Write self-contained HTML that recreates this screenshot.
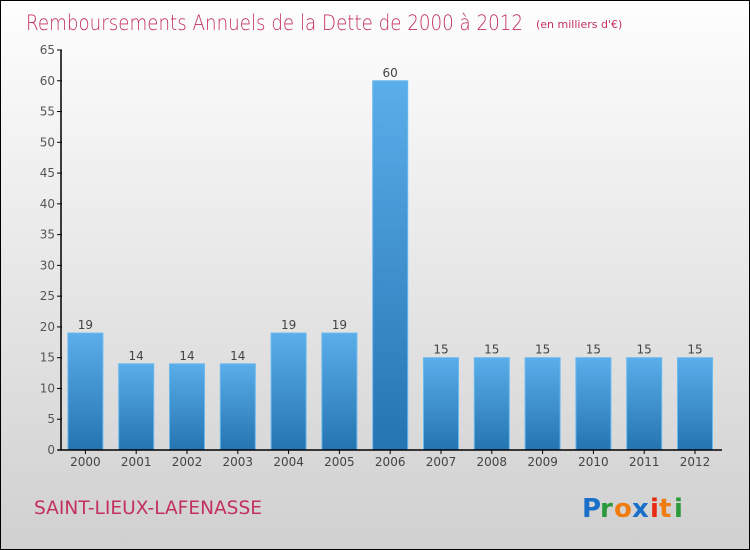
<!DOCTYPE html>
<html><head><meta charset="utf-8"><style>
body{margin:0}
#c{width:750px;height:550px;position:relative;box-sizing:border-box;border:1px solid #000;background:linear-gradient(#fefefe,#d0d0d0);font-family:"DejaVu Sans","Liberation Sans",sans-serif;overflow:hidden}
</style></head><body>
<div id="c">
<svg id="s" width="750" height="550" style="position:absolute;left:-1px;top:-1px">
<defs><linearGradient id="g" x1="0" y1="0" x2="0" y2="1"><stop offset="0" stop-color="#5aaeea"/><stop offset="1" stop-color="#2574b2"/></linearGradient></defs>
<text x="26" y="30" font-size="21" fill="#c3305e" font-family="'DejaVu Sans',sans-serif" font-weight="200" textLength="497" lengthAdjust="spacingAndGlyphs">Remboursements Annuels de la Dette de 2000 à 2012</text>
<text x="536" y="28" font-size="11" fill="#c3305e">(en milliers d'€)</text>
<text x="34" y="514" font-size="19" fill="#c3305e" textLength="228" lengthAdjust="spacingAndGlyphs">SAINT-LIEUX-LAFENASSE</text>
<g font-size="26" font-family="'DejaVu Sans',sans-serif" font-weight="bold">
<text x="582" y="517" fill="#1a70c8">P</text><text x="600" y="517" fill="#2a9a3a">r</text><text x="614" y="517" fill="#f07c10">o</text><text x="632" y="517" fill="#1a70c8">x</text><text x="650" y="517" fill="#e82a10">i</text><text x="659" y="517" fill="#f07c10">t</text><text x="674" y="517" fill="#2a9a3a">i</text>
</g>
<g id="plot"></g>
</svg>
</div>
<script>
const categories=["2000","2001","2002","2003","2004","2005","2006","2007","2008","2009","2010","2011","2012"];
const values=[19,14,14,14,19,19,60,15,15,15,15,15,15];
const yTicks=[0,5,10,15,20,25,30,35,40,45,50,55,60,65];
const NS="http://www.w3.org/2000/svg";
const g=document.getElementById('plot');
const x0=60,band=50.8,bw=35,yBase=450,yTop=50,yMax=65;
const y=v=>yBase-(v/yMax)*(yBase-yTop);
const xc=i=>x0+band*(i+0.5);
function mk(t,a){const e=document.createElementNS(NS,t);for(const k in a)e.setAttribute(k,a[k]);g.appendChild(e);return e;}
yTicks.forEach(t=>{
 const l=mk('line',{x1:57,x2:62,y1:y(t),y2:y(t),stroke:'#000'});
 
 
 const tx=mk('text',{x:55,y:y(t)+4,'text-anchor':'end','font-size':12,fill:'#555'});
 tx.textContent=t;
 
 
});
categories.forEach((c,i)=>{
 const r=mk('rect',{x:xc(i)-bw/2,y:y(values[i]),width:bw,height:yBase-y(values[i]),fill:'url(#g)',stroke:'#6ab8ee','stroke-width':1});
 
 
 const v=mk('text',{x:xc(i),y:y(values[i])-4,'text-anchor':'middle','font-size':12,fill:'#444'});
 v.textContent=values[i];
 
 
 const tk=mk('line',{x1:xc(i),x2:xc(i),y1:450,y2:454,stroke:'#000'});
 
 
 const xl=mk('text',{x:xc(i),y:466,'text-anchor':'middle','font-size':12,fill:'#444'});
 xl.textContent=c;
 
 
});
const ya=mk('line',{x1:61,x2:61,y1:50,y2:450,stroke:'#000','stroke-width':1.5});


const xa=mk('line',{x1:58,x2:722,y1:450,y2:450,stroke:'#000','stroke-width':1.5});


</script>
</body></html>
